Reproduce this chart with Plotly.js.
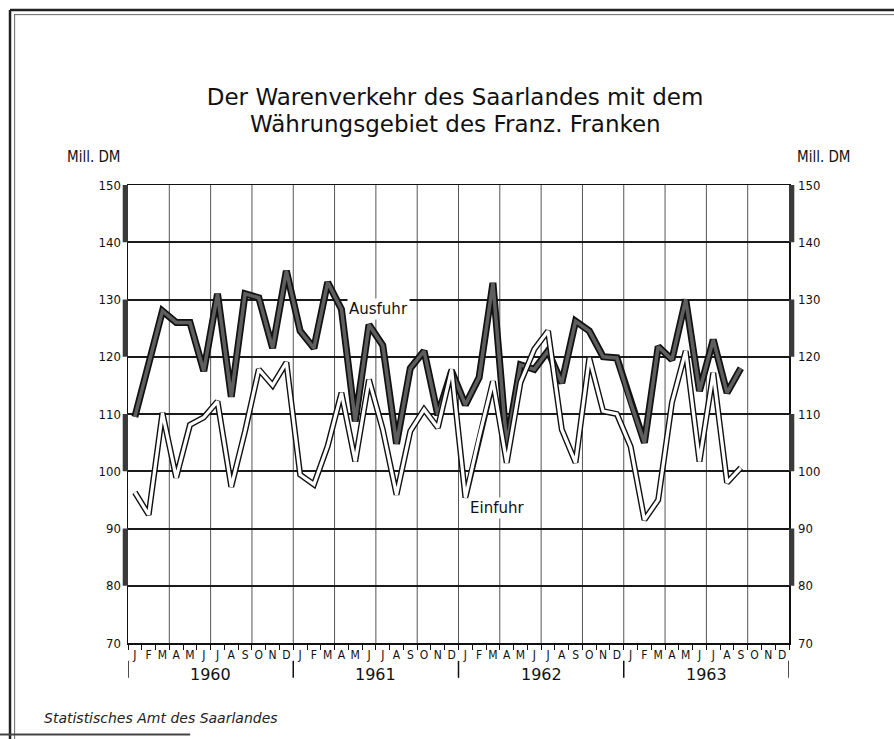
<!DOCTYPE html>
<html>
<head>
<meta charset="utf-8">
<script src="https://cdn.plot.ly/plotly-3.0.1.min.js"></script>
<style>html,body{margin:0;padding:0;background:#fff;}#chart{width:894px;height:739px;}</style>
</head>
<body>
<div id="chart"></div>
<script>
// ---- data (Mill. DM), monthly Jan 1960 – Sep 1963 ----
const years = ['1960', '1961', '1962', '1963'];
const monthLetters = ['J','F','M','A','M','J','J','A','S','O','N','D'];
const yTicks = [70, 80, 90, 100, 110, 120, 130, 140, 150];

const ausfuhr = [
  109.5, 119, 128, 126, 126, 117.5, 131, 113, 131, 130.3, 121.5, 135,
  124.5, 121.5, 133, 128.3, 108.7, 125.6, 122, 104.8, 118, 121, 109.8, 117.5,
  111.6, 116.4, 132.9, 104.5, 118.6, 117.8, 121, 115.4, 126.2, 124.5, 120, 119.8,
  112, 105, 121.8, 119.5, 130, 114, 123, 113.7, 118
];
const einfuhr = [
  96.3, 92.4, 110.2, 98.9, 108.1, 109.4, 112.2, 97.3, 107, 117.8, 115, 119,
  99.4, 97.7, 104.4, 113.7, 101.7, 116, 107.3, 95.9, 107, 110.8, 107.6, 117.8,
  95.4, 106, 115.7, 101.5, 115.5, 121.3, 124.5, 107.3, 101.5, 119.8, 110.5, 110,
  104.3, 91.5, 95, 112, 121, 101.7, 117.2, 98, 100.6
];

// ---- derived ----
const nMonths = years.length * 12;
const xPos = ausfuhr.map((_, i) => i + 0.5);
const tickVals = [], tickText = [];
for (let i = 0; i < nMonths; i++) { tickVals.push(i + 0.5); tickText.push(monthLetters[i % 12]); }
const boundaries = [];
for (let i = 0; i <= nMonths; i++) boundaries.push(i);

const narrow = '"Liberation Sans Narrow", "DejaVu Sans Condensed", sans-serif';
const round = '"DejaVu Sans", Verdana, sans-serif';

const traces = [
  {x: xPos, y: ausfuhr, type: 'scatter', mode: 'lines', line: {color: '#111', width: 7}, hoverinfo: 'skip', showlegend: false},
  {x: xPos, y: ausfuhr, type: 'scatter', mode: 'lines', line: {color: '#5e5e5e', width: 3.5}, hoverinfo: 'skip', showlegend: false},
  {x: xPos, y: einfuhr, type: 'scatter', mode: 'lines', line: {color: '#111', width: 6}, hoverinfo: 'skip', showlegend: false},
  {x: xPos, y: einfuhr, type: 'scatter', mode: 'lines', line: {color: '#fff', width: 3.2}, hoverinfo: 'skip', showlegend: false}
];

const shapes = [];
// quarterly vertical grid lines
for (let q = 3; q < nMonths; q += 3) {
  shapes.push({type: 'line', xref: 'x', yref: 'paper', x0: q, x1: q, y0: 0, y1: 1,
    line: {color: '#555', width: 1}, layer: 'below'});
}
// dark bars on the two side axes
for (let v = 80; v < 150; v += 20) {
  shapes.push({type: 'rect', xref: 'paper', yref: 'y', x0: -0.008, x1: 0, y0: v, y1: v + 10,
    fillcolor: '#3a3a3a', line: {width: 0}});
  shapes.push({type: 'rect', xref: 'paper', yref: 'y', x0: 1, x1: 1.008, y0: v, y1: v + 10,
    fillcolor: '#3a3a3a', line: {width: 0}});
}
// year separators
for (let k = 0; k <= years.length; k++) {
  shapes.push({type: 'line', xref: 'x', yref: 'paper', x0: k * 12, x1: k * 12, y0: -0.039, y1: -0.076,
    line: {color: '#111', width: 1.5}});
}
// page frame
shapes.push({type: 'line', xref: 'paper', yref: 'paper', x0: -0.1785, x1: 1.2, y0: 1.382, y1: 1.382, line: {color: '#222', width: 2.5}});
shapes.push({type: 'line', xref: 'paper', yref: 'paper', x0: -0.1725, x1: 1.2, y0: 1.372, y1: 1.372, line: {color: '#666', width: 1}});
shapes.push({type: 'line', xref: 'paper', yref: 'paper', x0: -0.1785, x1: -0.1785, y0: -0.25, y1: 1.382, line: {color: '#222', width: 2.5}});
shapes.push({type: 'line', xref: 'paper', yref: 'paper', x0: -0.1715, x1: -0.1715, y0: -0.25, y1: 1.372, line: {color: '#666', width: 1}});
shapes.push({type: 'line', xref: 'paper', yref: 'paper', x0: -0.2, x1: 0.094, y0: -0.2, y1: -0.2, line: {color: '#444', width: 2}});

const annotations = [];
years.forEach((yr, k) => {
  annotations.push({text: yr, xref: 'x', yref: 'paper', x: k * 12 + 6, y: -0.068, showarrow: false,
    font: {family: round, size: 16, color: '#111'}, xanchor: 'center', yanchor: 'middle'});
});
// right-hand value scale
yTicks.forEach(v => {
  annotations.push({text: String(v), xref: 'paper', yref: 'y', x: 1.011, y: v, xanchor: 'left', yanchor: 'middle',
    showarrow: false, font: {family: narrow, size: 13, color: '#111'}});
});
annotations.push({text: 'Mill. DM', xref: 'paper', yref: 'paper', x: -0.0514, y: 1.061, xanchor: 'center', yanchor: 'middle',
  showarrow: false, font: {family: narrow, size: 15, color: '#111'}});
annotations.push({text: 'Mill. DM', xref: 'paper', yref: 'paper', x: 1.053, y: 1.061, xanchor: 'center', yanchor: 'middle',
  showarrow: false, font: {family: narrow, size: 15, color: '#111'}});
annotations.push({text: 'Währungsgebiet des Franz. Franken', xref: 'paper', yref: 'paper', x: 0.495, y: (643 - 124) / 458,
  xanchor: 'center', yanchor: 'middle', showarrow: false, font: {family: round, size: 23, color: '#111'}});
annotations.push({text: '<i>Statistisches Amt des Saarlandes</i>', xref: 'paper', yref: 'paper', x: -0.130, y: -0.164,
  xanchor: 'left', yanchor: 'middle', showarrow: false, font: {family: round, size: 14, color: '#222'}});
annotations.push({text: 'Ausfuhr', xref: 'x', yref: 'y', x: 18.2, y: 128.3, showarrow: false, bgcolor: '#fff',
  font: {family: round, size: 15, color: '#111'}});
annotations.push({text: 'Einfuhr', xref: 'x', yref: 'y', x: 26.8, y: 93.6, showarrow: false, bgcolor: '#fff',
  font: {family: round, size: 15, color: '#111'}});

const layout = {
  width: 894, height: 739,
  margin: {l: 128, r: 105, t: 185, b: 96, pad: 0},
  paper_bgcolor: '#fff', plot_bgcolor: '#fff',
  title: {text: 'Der Warenverkehr des Saarlandes mit dem',
    x: 0.509, xref: 'container', xanchor: 'center', y: 1 - 97 / 739, yref: 'container', yanchor: 'middle',
    font: {family: round, size: 23, color: '#111'}},
  xaxis: {range: [0, nMonths], tickmode: 'array', tickvals: tickVals, ticktext: tickText,
    ticks: '', showgrid: false, zeroline: false, showline: true, mirror: true, linecolor: '#111', linewidth: 1.5,
    tickfont: {family: narrow, size: 12, color: '#111'},
    minor: {tickmode: 'array', tickvals: boundaries, ticks: 'outside', ticklen: 5, tickcolor: '#111', tickwidth: 1, showgrid: false},
    fixedrange: true},
  yaxis: {range: [70, 150], tickmode: 'array', tickvals: yTicks, ticks: 'outside', ticklen: 3, tickcolor: 'rgba(0,0,0,0)',
    showgrid: true, gridcolor: '#1a1a1a', gridwidth: 2, zeroline: false, showline: true, mirror: true, linecolor: '#111', linewidth: 1.5,
    tickfont: {family: narrow, size: 13, color: '#111'}, fixedrange: true},
  shapes: shapes,
  annotations: annotations,
  showlegend: false
};

Plotly.newPlot('chart', traces, layout, {staticPlot: true});
</script>
</body>
</html>
